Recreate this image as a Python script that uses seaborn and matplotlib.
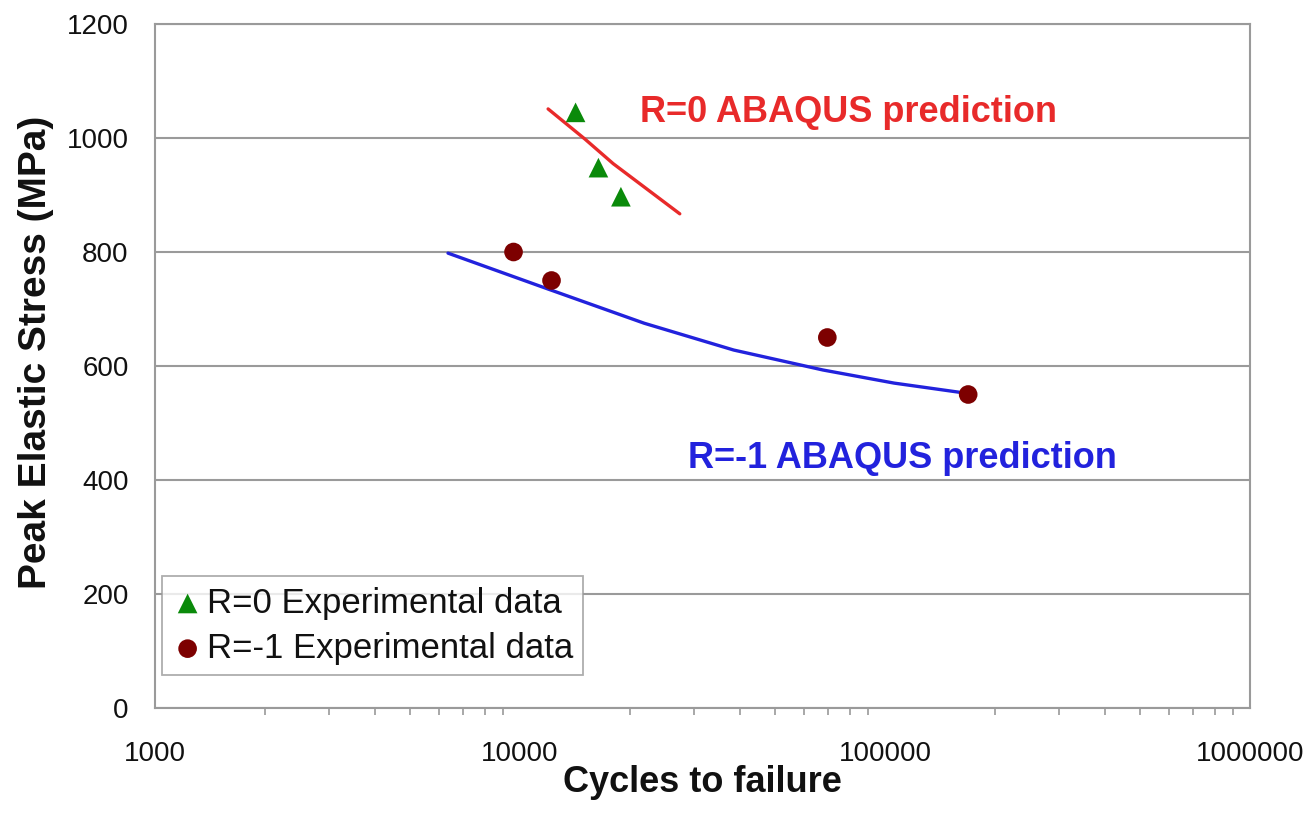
import matplotlib
matplotlib.use("Agg")
import matplotlib.pyplot as plt
import seaborn as sns
import pandas as pd
import numpy as np
from matplotlib.ticker import LogLocator, FixedLocator, NullFormatter

# ---- data ----
r0_exp_cycles = [14200, 16400, 18900]
r0_exp_stress = [1045, 948, 897]

rm1_exp_cycles = [9600, 12200, 69500, 169000]
rm1_exp_stress = [800, 750, 650, 550]

r0_pred_cycles = [11940, 15070, 18000, 27400]
r0_pred_stress = [1051, 998, 955, 867]

rm1_pred_cycles = [6350, 11940, 21900, 38500, 67600, 105900, 168000]
rm1_pred_stress = [798, 735, 675, 628, 593, 570, 552]

y_ticks = [0, 200, 400, 600, 800, 1000, 1200]
x_ticks = [1000, 10000, 100000, 1000000]
x_tick_labels = ["1000", "10000", "100000", "1000000"]

sns.set_theme(style="white")
plt.rcParams["font.family"] = ["Liberation Sans", "DejaVu Sans"]

fig = plt.figure(figsize=(13.16, 8.14), dpi=100)
ax = fig.add_axes([155/1316, 1-708/814, (1250-155)/1316, (708-24)/814])

grey = "#9a9a9a"

df_r0p = pd.DataFrame({"x": r0_pred_cycles, "y": r0_pred_stress})
df_rm1p = pd.DataFrame({"x": rm1_pred_cycles, "y": rm1_pred_stress})
sns.lineplot(data=df_r0p, x="x", y="y", ax=ax, color="#e82a2a", lw=2.4, sort=False,
             estimator=None, zorder=3)
sns.lineplot(data=df_rm1p, x="x", y="y", ax=ax, color="#2222dd", lw=2.4, sort=False,
             estimator=None, zorder=3)

df_r0 = pd.DataFrame({"x": r0_exp_cycles, "y": r0_exp_stress})
df_rm1 = pd.DataFrame({"x": rm1_exp_cycles, "y": rm1_exp_stress})
sns.scatterplot(data=df_r0, x="x", y="y", ax=ax, marker="^", s=200, color="#0a8a0a",
                edgecolor="none", label="R=0 Experimental data", zorder=4)
sns.scatterplot(data=df_rm1, x="x", y="y", ax=ax, marker="o", s=180, color="#7d0000",
                edgecolor="none", label="R=-1 Experimental data", zorder=4)

ax.set_xscale("log")
ax.set_xlim(1000, 1000000)
ax.set_ylim(0, 1200)

ax.set_yticks(y_ticks)
ax.set_yticklabels([str(v) for v in y_ticks])
ax.xaxis.set_major_locator(FixedLocator(x_ticks))
ax.set_xticklabels(x_tick_labels)
ax.xaxis.set_minor_locator(LogLocator(base=10, subs=np.arange(2, 10)))
ax.xaxis.set_minor_formatter(NullFormatter())

ax.yaxis.grid(True, color=grey, lw=1.5)
ax.xaxis.grid(False)
ax.set_axisbelow(True)
for sp in ax.spines.values():
    sp.set_color(grey)
    sp.set_linewidth(1.5)

ax.tick_params(axis="both", which="major", direction="out", length=7, width=1.3,
               color=grey, labelsize=20, labelcolor="#111111")
ax.tick_params(axis="x", which="major", pad=17)
ax.tick_params(axis="y", which="major", pad=12)
ax.tick_params(axis="x", which="minor", direction="out", length=5, width=1.2,
               color=grey, bottom=True)

ax.set_xlabel("Cycles to failure", fontsize=26, fontweight="bold", color="#111111")
ax.set_ylabel("Peak Elastic Stress (MPa)", fontsize=28, fontweight="bold", color="#111111")
ax.xaxis.set_label_coords(0.5, -0.083)
ax.yaxis.set_label_coords(-0.092, 0.52)

ax.text(21300, 1028, "R=0 ABAQUS prediction", color="#e82a2a", fontsize=26,
        fontweight="bold", ha="left", va="baseline")
ax.text(28850, 421, "R=-1 ABAQUS prediction", color="#2222dd", fontsize=26,
        fontweight="bold", ha="left", va="baseline")

leg = ax.legend(loc="lower left", bbox_to_anchor=(0.006, 0.048), fontsize=25,
                frameon=True, fancybox=False, edgecolor=grey, handletextpad=0.1,
                handlelength=0.9, borderpad=0.3, labelspacing=0.35, borderaxespad=0)
leg.get_frame().set_linewidth(1.3)
for t in leg.get_texts():
    t.set_color("#111111")

fig.savefig("out.png", dpi=100)
